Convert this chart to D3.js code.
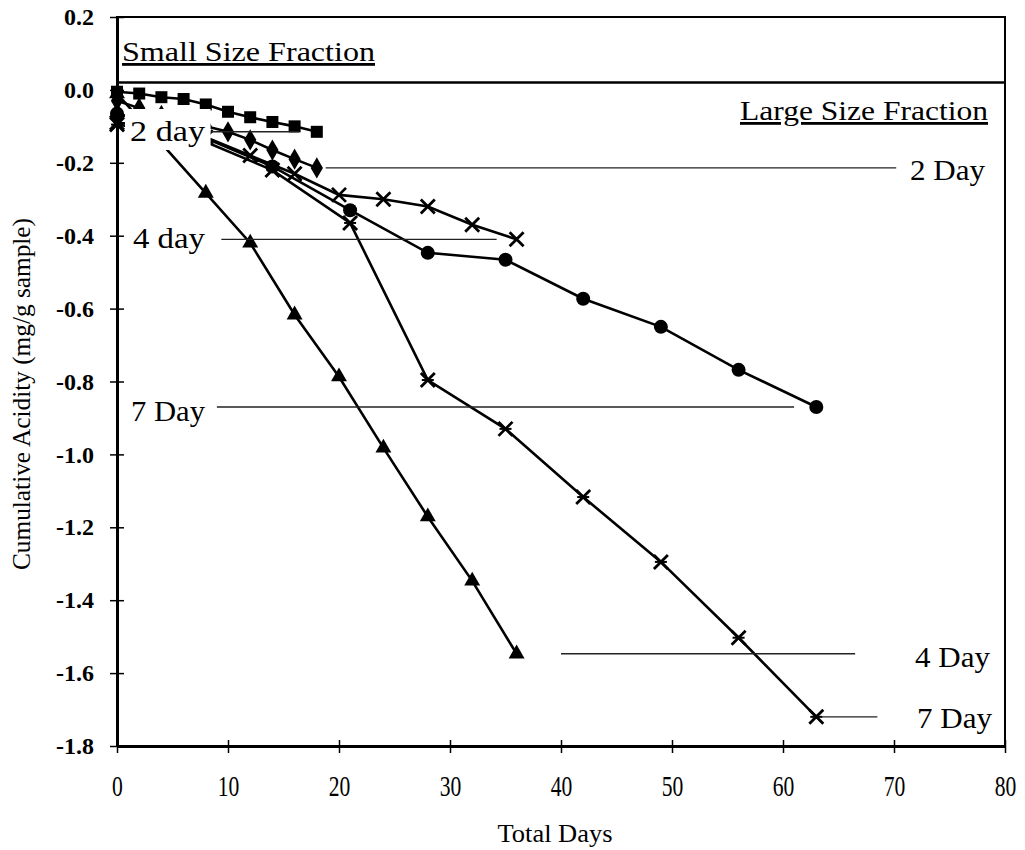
<!DOCTYPE html>
<html><head><meta charset="utf-8">
<script src="https://cdn.jsdelivr.net/npm/d3@7"></script>
<style>body{margin:0;background:#fff}svg{display:block}</style>
</head><body><div id="chart"></div>
<script>
// ---- data (days, cumulative acidity mg/g sample) ----
const xTicks = [0,10,20,30,40,50,60,70,80];
const yTicks = [0.2,0.0,-0.2,-0.4,-0.6,-0.8,-1.0,-1.2,-1.4,-1.6,-1.8];
const yTickLabels = ["0.2","0.0","-0.2","-0.4","-0.6","-0.8","-1.0","-1.2","-1.4","-1.6","-1.8"];

// Small size fraction
const small2Days = [0,2,4,6,8,10,12,14,16,18];
const small2Vals = [-0.005,-0.01,-0.02,-0.025,-0.04,-0.06,-0.075,-0.088,-0.10,-0.115];
const small4Days = [0,4,8,12,16,20,24,28,32,36];
const small4Vals = [-0.09,-0.10,-0.13,-0.18,-0.23,-0.288,-0.30,-0.32,-0.37,-0.41];
const small7Days = [0,7,14,21,28,35,42,49,56,63];
const small7Vals = [-0.065,-0.12,-0.21,-0.33,-0.447,-0.466,-0.573,-0.65,-0.768,-0.87];
// Large size fraction
const large2Days = [0,2,4,6,8,10,12,14,16,18];
const large2Vals = [-0.03,-0.05,-0.07,-0.085,-0.10,-0.115,-0.137,-0.165,-0.19,-0.214];
const large4Days = [0,8,12,16,20,24,28,32,36];
const large4Vals = [-0.01,-0.283,-0.42,-0.617,-0.787,-0.982,-1.171,-1.347,-1.547];
const large7Days = [0,7,14,21,28,35,42,49,56,63];
const large7Vals = [-0.095,-0.13,-0.22,-0.365,-0.796,-0.93,-1.117,-1.295,-1.503,-1.72];

const W = 1025, H = 850;
const x = d3.scaleLinear().domain([0,80]).range([117,1005]);
const y = d3.scaleLinear().domain([-1.8,0.2]).range([746,17]);

const svg = d3.select("#chart").append("svg").attr("width",W).attr("height",H);
const serif = "'Liberation Serif','Times New Roman',serif";

// frame
svg.append("rect").attr("x",x(0)).attr("y",y(0.2)).attr("width",x(80)-x(0)).attr("height",y(-1.8)-y(0.2))
  .attr("fill","none").attr("stroke","#000").attr("stroke-width",2);
// divider between small/large fraction panels
svg.append("line").attr("x1",x(0)).attr("x2",x(80)).attr("y1",y(0.02)).attr("y2",y(0.02))
  .attr("stroke","#000").attr("stroke-width",2.5);

// axes
const yAxis = d3.axisLeft(y).tickValues(yTicks).tickSize(0).tickFormat((d,i)=>yTickLabels[i]);
const gy = svg.append("g").attr("transform",`translate(${x(0)},0)`).call(yAxis);
gy.select(".domain").attr("stroke","#000").attr("stroke-width",3);
gy.selectAll(".tick text").attr("x",-23).attr("font-family",serif).attr("font-size",24).attr("font-weight","bold").attr("fill","#000");
gy.selectAll(".tick").append("line").attr("x1",-7).attr("x2",7).attr("stroke","#000").attr("stroke-width",1.5);

const xAxis = d3.axisBottom(x).tickValues(xTicks).tickSize(0).tickFormat(d3.format("d"));
const gx = svg.append("g").attr("transform",`translate(0,${y(-1.8)})`).call(xAxis);
gx.select(".domain").attr("stroke","#000").attr("stroke-width",3);
gx.selectAll(".tick text").attr("y",29).attr("font-family",serif).attr("font-size",30)
  .attr("transform","scale(0.72,1)").attr("fill","#000");
gx.selectAll(".tick").append("line").attr("y1",-6).attr("y2",7).attr("stroke","#000").attr("stroke-width",1.5);

// axis titles
svg.append("text").attr("x",(x(0)+x(80))/2 - 6).attr("y",842).attr("text-anchor","middle")
  .attr("font-family",serif).attr("font-size",26).attr("textLength",115).attr("lengthAdjust","spacingAndGlyphs")
  .text("Total Days");
svg.append("text").attr("transform","translate(30,394) rotate(-90)").attr("text-anchor","middle")
  .attr("font-family",serif).attr("font-size",25).attr("textLength",352).attr("lengthAdjust","spacingAndGlyphs")
  .text("Cumulative Acidity (mg/g sample)");

// series
const line = d3.line().x(d=>x(d[0])).y(d=>y(d[1]));
function zip(a,b){return a.map((v,i)=>[v,b[i]]);}
const series = [
  {pts:zip(small2Days,small2Vals), m:"square"},
  {pts:zip(large2Days,large2Vals), m:"diamond"},
  {pts:zip(small7Days,small7Vals), m:"circle"},
  {pts:zip(small4Days,small4Vals), m:"x"},
  {pts:zip(large7Days,large7Vals), m:"star"},
  {pts:zip(large4Days,large4Vals), m:"triangle"}
];
const gS = svg.append("g");
series.forEach(s=>{
  gS.append("path").attr("d",line(s.pts)).attr("fill","none").attr("stroke","#000").attr("stroke-width",2.6);
});
series.forEach(s=>{
  const g = gS.append("g");
  s.pts.forEach(p=>{
    const cx=x(p[0]), cy=y(p[1]);
    if(s.m==="square") g.append("rect").attr("x",cx-6).attr("y",cy-6).attr("width",12).attr("height",12).attr("fill","#000");
    else if(s.m==="circle") g.append("circle").attr("cx",cx).attr("cy",cy).attr("r",7).attr("fill","#000");
    else if(s.m==="diamond") g.append("path").attr("d",d3.symbol(d3.symbolDiamond,130)()).attr("transform",`translate(${cx},${cy})`).attr("fill","#000");
    else if(s.m==="triangle") g.append("path").attr("d",d3.symbol(d3.symbolTriangle,110)()).attr("transform",`translate(${cx},${cy})`).attr("fill","#000");
    else if(s.m==="x"||s.m==="star"){
      g.append("path").attr("d",`M${cx-7},${cy-7}L${cx+7},${cy+7}M${cx-7},${cy+7}L${cx+7},${cy-7}`).attr("stroke","#000").attr("stroke-width",2.8);
      if(s.m==="star") g.append("path").attr("d",`M${cx-6},${cy}L${cx+6},${cy}`).attr("stroke","#000").attr("stroke-width",2);
    }
  });
});

// leader lines (to the end point of each series)
const leaders = [
  [8.3, 16.4, small2Vals[small2Vals.length-1]],
  [9.4, 34.2, small4Vals[small4Vals.length-1]],
  [9.0, 61.0, small7Vals[small7Vals.length-1]],
  [18.8, 70.2, large2Vals[large2Vals.length-1]],
  [40.0, 66.5, large4Vals[large4Vals.length-1]],
  [63.5, 68.5, large7Vals[large7Vals.length-1]]
];
leaders.forEach(l=>{
  svg.append("line").attr("x1",x(l[0])).attr("x2",x(l[1])).attr("y1",y(l[2])).attr("y2",y(l[2]))
    .attr("stroke","#222").attr("stroke-width",1.4);
});

// labels
function label(t,xx,yy,anchor,len,fs,bg){
  const tx = svg.append("text").attr("x",xx).attr("y",yy).attr("text-anchor",anchor||"start")
    .attr("font-family",serif).attr("font-size",fs).attr("fill","#000")
    .attr("textLength",len).attr("lengthAdjust","spacingAndGlyphs").text(t);
  if(bg){
    const b = tx.node().getBBox();
    svg.insert("rect",()=>tx.node()).attr("x",b.x-5).attr("y",b.y-bg).attr("width",b.width+10).attr("height",b.height+bg+3).attr("fill","#fff");
  }
  return tx;
}
label("2 day",130,141,"start",75,29,6);
label("4 day",133,248,"start",72,29,1);
label("7 Day",131,421,"start",74,29,1);
label("2 Day",985,180,"end",75,29);
label("4 Day",990,667,"end",75,29);
label("7 Day",992,728,"end",75,29);
label("Small Size Fraction",122,61,"start",253,28).attr("text-decoration","underline");
label("Large Size Fraction",988,120,"end",248,28).attr("text-decoration","underline");
</script></body></html>
